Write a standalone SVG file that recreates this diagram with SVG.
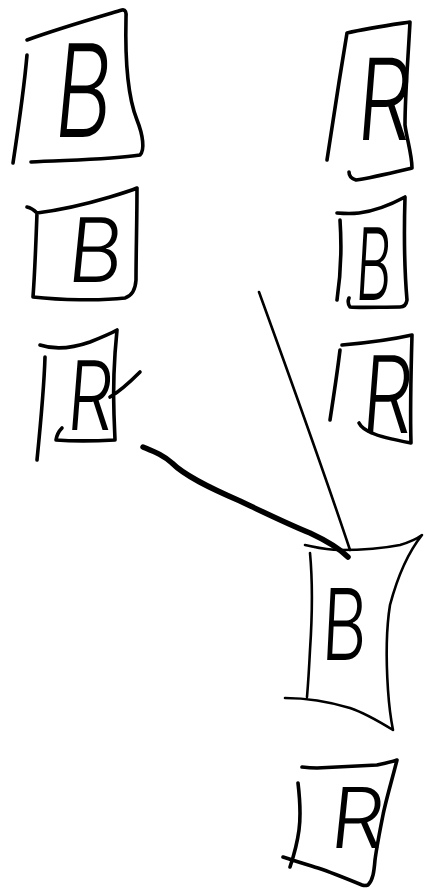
<svg xmlns="http://www.w3.org/2000/svg" width="424" height="895" viewBox="0 0 424 895">
<style>
.box{fill:none;stroke:#000;stroke-width:3.6;stroke-linecap:round;stroke-linejoin:round}
.thin{stroke-width:2.6}
.lbl{font-family:Inter,"Noto Sans","DejaVu Sans",sans-serif;font-weight:300;fill:#000;text-anchor:middle}
.edge{fill:none;stroke:#000;stroke-linecap:round;stroke-linejoin:round}
</style>
<rect width="424" height="895" fill="#fff"/>
<g id="n1">
<path class="box" d="M27,40 C60,28 95,18 122,10 Q127,9 126,18 C125,60 127,95 137,120 C143,135 145,150 140,155 C110,160 60,160 31,162 M27,55 C24,90 18,130 13,163"/>
<text class="lbl" font-size="129" transform="translate(80,137) scale(0.68,1) skewX(-8)">B</text>
</g>
<g id="n2">
<path class="box" d="M347,33 C368,28 390,25 410,22 C408,60 405,95 405,125 C407,140 412,155 412,168 C395,172 370,178 356,180 Q349,178 349,172 M347,33 C340,75 333,120 327,160"/>
<text class="lbl" font-size="113" transform="translate(382,140) scale(0.76,1) skewX(-6)">R</text>
</g>
<g id="n3">
<path class="box" d="M27,207 Q32,208 37,213 C60,210 90,203 110,197 C120,194 130,191 137,188 C137,220 136,255 136,280 Q135,295 125,298 C100,301 60,300 33,297 C35,270 36,240 37,213"/>
<text class="lbl" font-size="89" transform="translate(93,282) scale(0.95,1) skewX(-6)">B</text>
</g>
<g id="n4">
<path class="box" d="M40,345 C55,350 70,349 90,342 C100,338 110,334 117,330 C114,360 113,390 114,415 L115,440 C95,441 70,441 56,440 Q57,433 62,428 M45,357 C44,390 40,430 37,460 M110,397 C122,390 132,380 140,372"/>
<text class="lbl" font-size="96" transform="translate(88,430) scale(0.75,1) skewX(-6)">R</text>
</g>
<g id="n5">
<path class="box" d="M337,213 Q350,214 359,213 C375,211 392,204 405,197 C404,230 404,265 407,300 Q406,307 400,307 C380,307 360,308 350,307 Q347,303 349,298 M340,220 C342,250 340,280 337,300"/>
<text class="lbl" font-size="100" transform="translate(372,300) scale(0.55,1) skewX(-6)">B</text>
</g>
<g id="n6">
<path class="box" d="M342,345 C365,343 390,340 412,335 C411,370 410,410 411,443 C395,440 380,437 372,433 C365,430 361,427 359,423 M340,350 C337,375 333,400 330,420"/>
<text class="lbl" font-size="107" transform="translate(385,433) scale(0.74,1) skewX(-6)">R</text>
</g>
<g id="n7">
<path class="box thin" d="M305,545 C315,547 325,550 340,550 C360,550 385,548 400,545 C410,542 418,538 422,535 C410,550 398,575 390,605 C386,630 386,660 388,690 C389,705 391,720 393,730 C380,722 365,713 350,708 C330,702 310,698 285,698 M310,553 C313,585 312,620 310,650 C309,670 308,685 307,697"/>
<text class="lbl" font-size="99" transform="translate(343,660) scale(0.7,1) skewX(-4)">B</text>
</g>
<g id="n8">
<path class="box" d="M302,767 Q310,768 317,768 C340,767 360,766 377,765 C385,763 392,762 397,760 C392,780 386,800 383,815 C380,830 377,845 375,860 C374,872 373,880 368,885 Q365,886 362,885 C345,878 330,872 318,868 C305,864 295,861 283,857 M298,783 C300,800 301,815 299,830 C297,845 293,858 290,867"/>
<text class="lbl" font-size="84" transform="translate(355,848) scale(1,1) skewX(-6)">R</text>
</g>
<g id="connectors">
<path class="edge" stroke-width="2.6" d="M259,292 C280,350 320,460 350,550"/>
<path class="edge" stroke-width="5.5" d="M143,447 C155,452 163,455 172,463 C185,476 210,488 240,501 C265,513 290,525 310,533 C325,540 338,547 348,557"/>
</g>
</svg>
